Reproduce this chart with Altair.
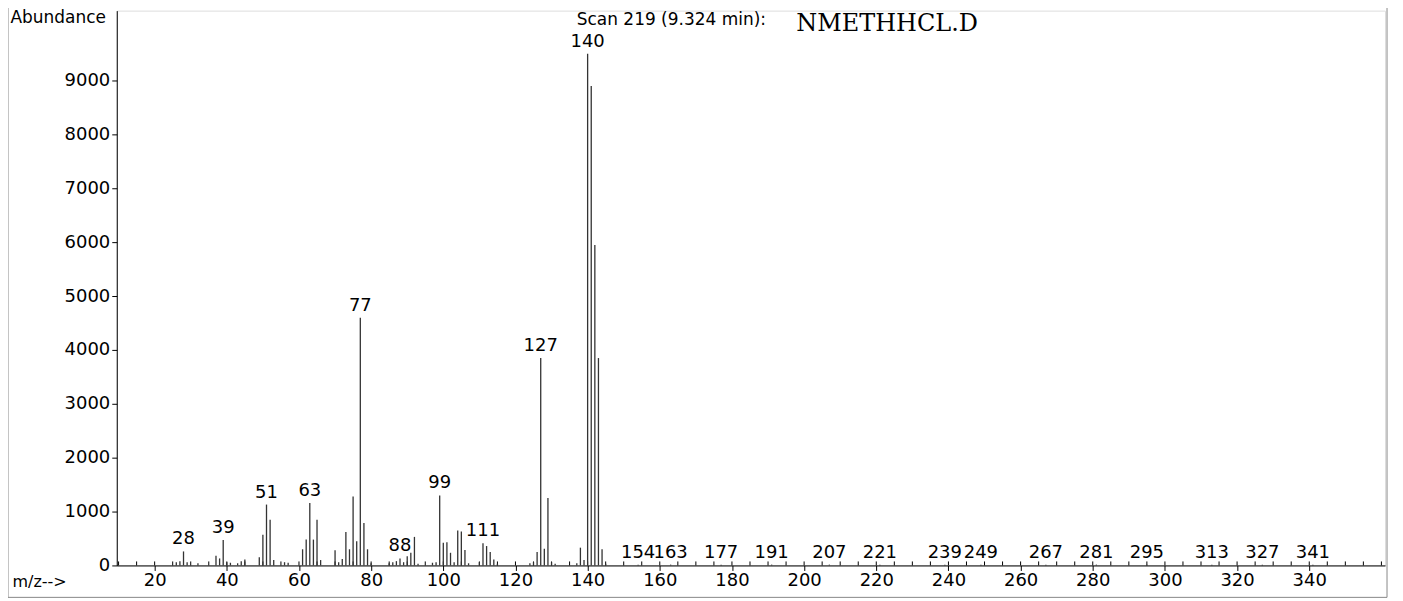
import altair as alt
import pandas as pd

# m/z values and abundances
mz = [26, 27, 28, 29, 32, 37, 38, 39, 40, 41, 43, 44, 45, 49, 50, 51, 52, 53,
      56, 57, 61, 62, 63, 64, 65, 66, 70, 71, 72, 73, 74, 75, 76, 77, 78, 79, 80,
      85, 86, 87, 88, 89, 90, 91, 92, 93, 97, 98, 99, 100, 101, 102, 103, 104,
      105, 106, 107, 110, 111, 112, 113, 114, 115, 124, 125, 126, 127, 128, 129,
      130, 131, 137, 138, 139, 140, 141, 142, 143, 144, 145,
      154, 163, 177, 191, 207, 221, 239, 249, 267, 281, 295, 313, 327, 341]
abundance = [60, 80, 260, 60, 40, 180, 130, 470, 60, 50, 40, 80, 110, 150, 570, 1130, 850, 100,
             60, 50, 300, 480, 1160, 480, 850, 100, 280, 60, 120, 620, 300, 1280, 450, 4600, 790, 300, 40,
             40, 60, 80, 130, 60, 170, 235, 530, 30, 50, 60, 1300, 420, 430, 235, 60, 650,
             630, 285, 40, 60, 410, 360, 250, 110, 30, 40, 60, 250, 3850, 310, 1250,
             60, 30, 40, 330, 100, 9500, 8900, 5950, 3850, 300, 30,
             15, 15, 15, 15, 15, 15, 15, 15, 15, 15, 15, 15, 15, 15]
label_mz = [28, 39, 51, 63, 77, 88, 99, 111, 127, 140, 154, 163, 177, 191, 207,
            221, 239, 249, 267, 281, 295, 313, 327, 341]

x_ticks = list(range(20, 341, 20))
x_minor = list(range(10, 361, 5))
y_ticks = list(range(0, 9001, 1000))

header_left = "Scan 219 (9.324 min):"
header_right = "NMETHHCL.D"

df = pd.DataFrame({"mz": mz, "ab": abundance})
df["label"] = [str(m) if m in label_mz else "" for m in mz]

W, H = 1271, 556
FONT = "DejaVu Sans"

xscale = alt.Scale(domain=[9.5, 361], nice=False, zero=False)
yscale = alt.Scale(domain=[0, 10300], nice=False)

base = alt.Chart(df)

sticks = base.mark_rule(color="#333333", strokeWidth=1.3).encode(
    x=alt.X("mz:Q", scale=xscale,
            axis=alt.Axis(values=x_ticks, grid=False, tickSize=5, labelFontSize=18,
                          labelFont=FONT, labelColor="black", labelPadding=1,
                          domainColor="black", tickColor="black", labelFlush=False,
                          format="d",
                          title="m/z-->", titleFont=FONT, titleFontSize=16,
                          titleFontWeight="normal", titleAngle=0, titleAlign="left",
                          titleBaseline="middle", titleX=-105, titleY=16)),
    y=alt.Y("ab:Q", scale=yscale,
            axis=alt.Axis(values=y_ticks, grid=False, tickSize=5, labelFontSize=18,
                          labelFont=FONT, labelColor="black", labelPadding=2,
                          domainColor="black", tickColor="black", format="d",
                          title="Abundance", titleFont=FONT, titleFontSize=17,
                          titleFontWeight="normal", titleAngle=0, titleAlign="left",
                          titleBaseline="middle", titleX=-107, titleY=7)),
    y2=alt.datum(0),
)

labels = base.transform_filter("datum.label != ''").mark_text(
    font=FONT, fontSize=18, baseline="bottom", align="center", dy=-3, color="black"
).encode(x=alt.X("mz:Q", scale=xscale), y=alt.Y("ab:Q", scale=yscale), text="label:N")

minor = alt.Chart(pd.DataFrame({"t": x_minor})).mark_rule(color="black", strokeWidth=1).encode(
    x=alt.X("t:Q", scale=xscale), y=alt.value(H - 4), y2=alt.value(H)
)

hdr1 = alt.Chart(pd.DataFrame({"t": [header_left]})).mark_text(
    font=FONT, fontSize=17, align="left", baseline="alphabetic", color="black"
).encode(text="t:N", x=alt.value(461), y=alt.value(14))

hdr2 = alt.Chart(pd.DataFrame({"t": [header_right]})).mark_text(
    font="DejaVu Serif", fontSize=24, align="left", baseline="alphabetic", color="black"
).encode(text="t:N", x=alt.value(681), y=alt.value(20))

frame = alt.Chart(pd.DataFrame({"t": [0]})).mark_rect(
    fill=None, stroke="#888888", strokeWidth=1
).encode(x=alt.value(-109), x2=alt.value(1273), y=alt.value(-5), y2=alt.value(588))

chart = alt.layer(frame, minor, sticks, labels, hdr1, hdr2).properties(
    width=W, height=H,
    autosize=alt.AutoSizeParams(type="none"),
    padding={"left": 109, "top": 2, "right": 10, "bottom": 35},
).configure_view(stroke=None).configure(background="white")

chart.save("out.html", embed_options={"renderer": "svg", "actions": False})
